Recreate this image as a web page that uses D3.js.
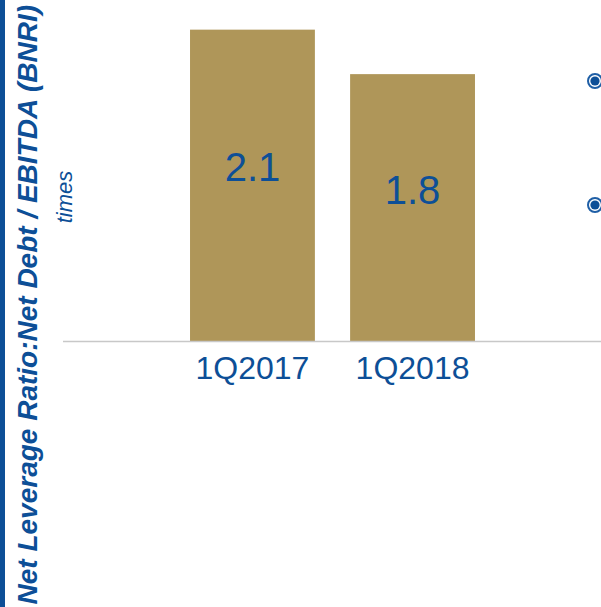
<!DOCTYPE html>
<html>
<head>
<meta charset="utf-8">
<script src="https://cdn.jsdelivr.net/npm/d3@7"></script>
<style>
  html, body { margin: 0; padding: 0; background: #fff; }
  svg { display: block; font-family: Arial, "Liberation Sans", sans-serif; }
</style>
</head>
<body>
<svg id="chart" width="601" height="607"></svg>
<script>
// Quarterly net leverage ratio (times)
const periods = ["1Q2017", "1Q2018"];
const ratios = [2.1, 1.8];
const valueLabels = ["2.1", "1.8"];
const titleText = "Net Leverage Ratio:Net Debt / EBITDA (BNRI)";
const unitText = "times";

const BLUE = "#0D4F97";
const GOLD = "#AF9659";

const svg = d3.select("#chart");

const x = d3.scaleBand()
  .domain(periods)
  .range([150, 515])
  .paddingInner(0.22)
  .paddingOuter(0.25);

const y = d3.scaleLinear()
  .domain([0, 2.3])
  .range([341, 0]);

// Left accent stripe
svg.append("rect")
  .attr("x", 0).attr("y", 0)
  .attr("width", 5).attr("height", 607)
  .attr("fill", BLUE);

// Vertical title
svg.append("text")
  .attr("transform", "translate(37,5) rotate(-90)")
  .attr("text-anchor", "end")
  .attr("fill", BLUE)
  .attr("font-size", 28)
  .attr("font-weight", "bold")
  .attr("font-style", "italic")
  .text(titleText);

// Unit label
svg.append("text")
  .attr("transform", "translate(72,197) rotate(-90)")
  .attr("text-anchor", "middle")
  .attr("fill", BLUE)
  .attr("font-size", 22)
  .attr("font-style", "italic")
  .text(unitText);

// Bars
svg.selectAll("rect.bar")
  .data(periods)
  .join("rect")
  .attr("class", "bar")
  .attr("x", d => x(d))
  .attr("width", x.bandwidth())
  .attr("y", (d, i) => y(ratios[i]))
  .attr("height", (d, i) => y(0) - y(ratios[i]))
  .attr("fill", GOLD);

// Value labels inside bars
svg.selectAll("text.value")
  .data(periods)
  .join("text")
  .attr("class", "value")
  .attr("x", d => x(d) + x.bandwidth() / 2)
  .attr("y", (d, i) => (y(ratios[i]) + y(0)) / 2 - 4)
  .attr("text-anchor", "middle")
  .attr("fill", BLUE)
  .attr("font-size", 40)
  .text((d, i) => valueLabels[i]);

// Category axis
const xAxis = svg.append("g")
  .attr("transform", `translate(0,${y(0)})`)
  .call(d3.axisBottom(x).tickSize(0).tickPadding(15));
xAxis.select(".domain").remove();
xAxis.selectAll("text")
  .attr("fill", BLUE)
  .attr("font-size", 32)
  .attr("font-family", "Arial, 'Liberation Sans', sans-serif");

// Baseline
svg.append("line")
  .attr("x1", 63).attr("x2", 601)
  .attr("y1", y(0) + 0.5).attr("y2", y(0) + 0.5)
  .attr("stroke", "#C8C8C8")
  .attr("stroke-width", 1.3);

// Bullet markers at the right edge
const bulletY = [81, 205];
const bullets = svg.selectAll("g.bullet")
  .data(bulletY)
  .join("g")
  .attr("class", "bullet")
  .attr("transform", d => `translate(595,${d})`);
bullets.append("circle")
  .attr("r", 7)
  .attr("fill", "none")
  .attr("stroke", "#1F5FA6")
  .attr("stroke-width", 2);
bullets.append("circle")
  .attr("r", 4.6)
  .attr("fill", BLUE);
</script>
</body>
</html>
